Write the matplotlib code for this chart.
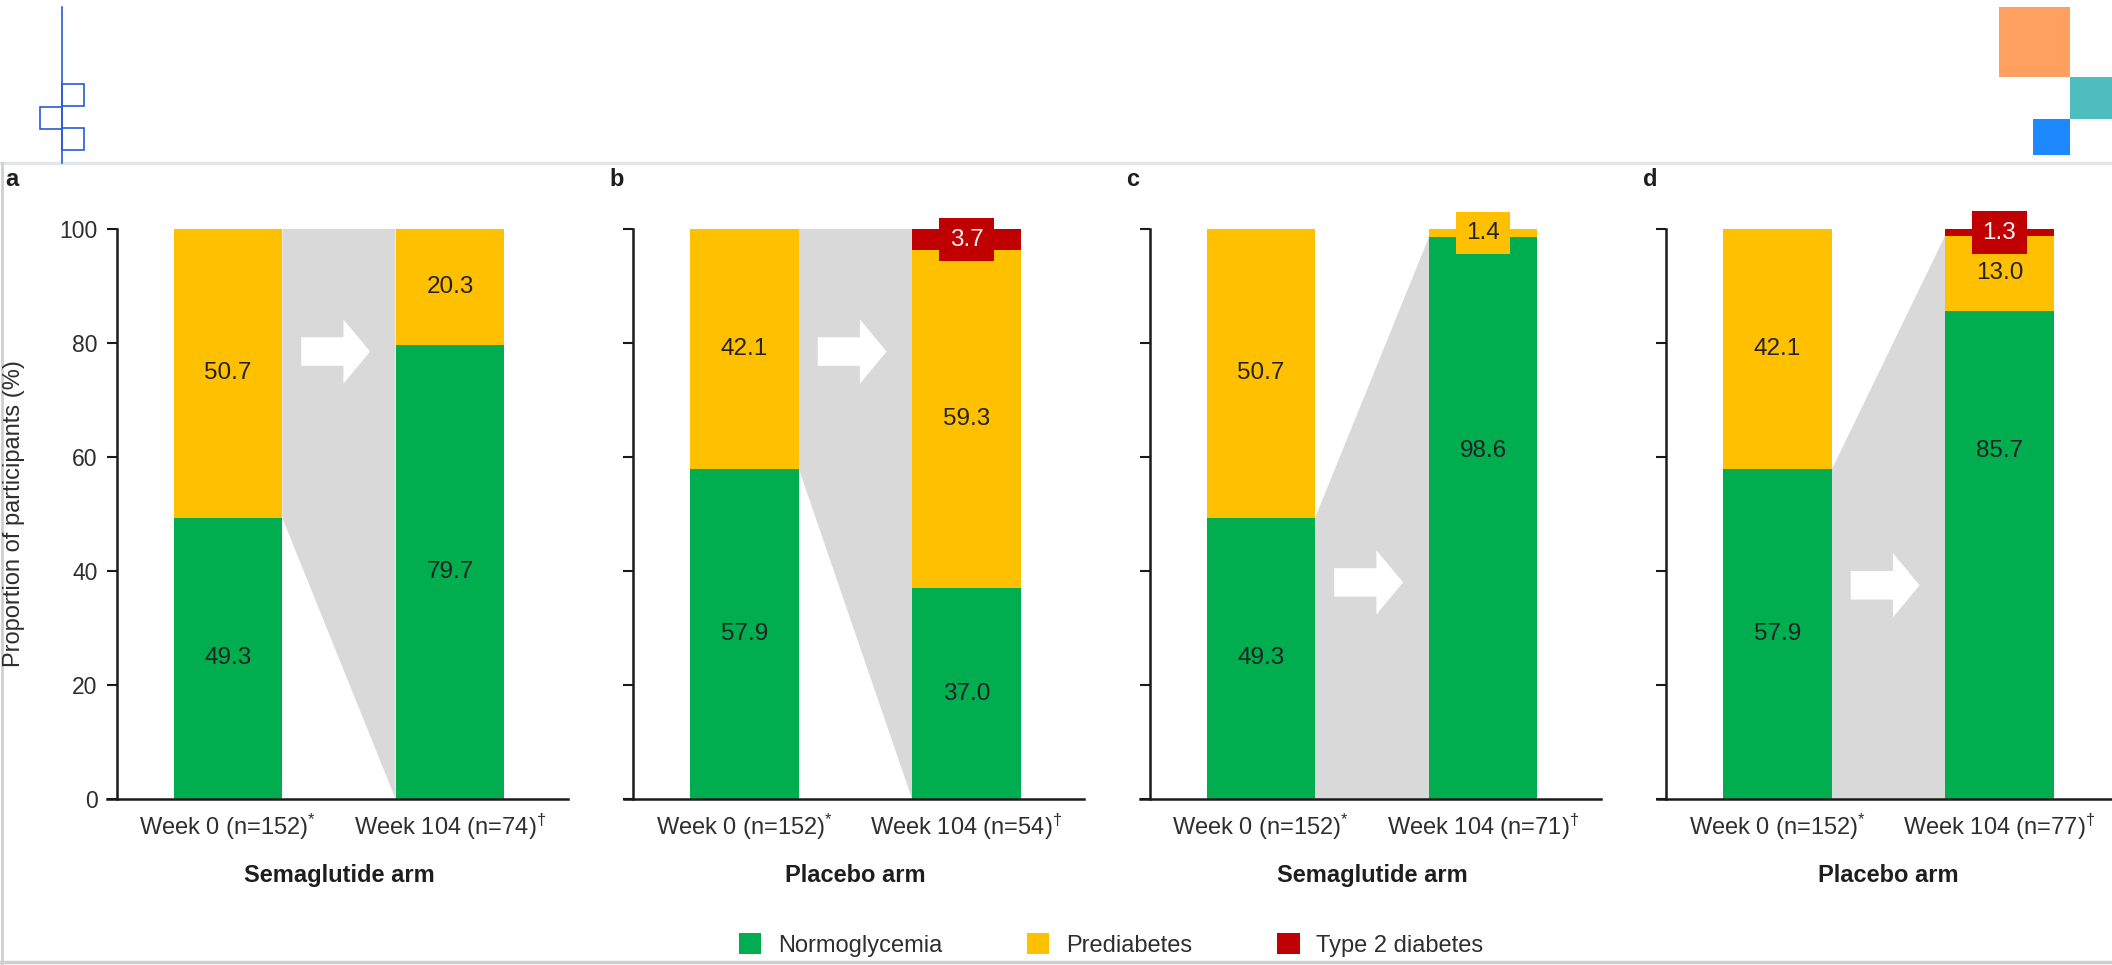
import matplotlib
matplotlib.use('Agg')
import matplotlib.pyplot as plt
import matplotlib.transforms as mtransforms
from matplotlib.patches import Rectangle, FancyArrow, Patch
from matplotlib.lines import Line2D

plt.rcParams['font.family'] = ['Liberation Sans', 'DejaVu Sans']
plt.rcParams['mathtext.fontset'] = 'custom'
plt.rcParams['mathtext.rm'] = 'Liberation Sans'
plt.rcParams['mathtext.it'] = 'Liberation Sans'

# one entry per panel
panel_ids = ['a', 'b', 'c', 'd']
arm_names = ['Semaglutide arm', 'Placebo arm', 'Semaglutide arm', 'Placebo arm']
n_week0 = [152, 152, 152, 152]
n_week104 = [74, 54, 71, 77]

normo_w0 = [49.3, 57.9, 49.3, 57.9]
prediab_w0 = [50.7, 42.1, 50.7, 42.1]
normo_w104 = [79.7, 37.0, 98.6, 85.7]
prediab_w104 = [20.3, 59.3, 1.4, 13.0]
t2d_w104 = [0.0, 3.7, 0.0, 1.3]

# which week-0 group is traced to week 104, and how high it reaches there
flow_source = ['prediabetes', 'prediabetes', 'normoglycemia', 'normoglycemia']
flow_top_w104 = [100.0, 100.0, 98.6, 98.7]

categories = ['Normoglycemia', 'Prediabetes', 'Type 2 diabetes']

GREEN = '#00ad4f'
YELLOW = '#ffc000'
RED = '#c00000'
GREY = '#d9d9d9'
TXT = '#222222'

W, H = 2112, 965
fig = plt.figure(figsize=(W / 100, H / 100), dpi=100)
fig.patch.set_facecolor('white')


def fx(px):
    return px / W


def fy(py):
    return 1 - py / H


# page header decoration
fig.add_artist(Line2D([0, 1], [fy(163), fy(163)], transform=fig.transFigure,
                      color='#e3e7ec', lw=2.5))
fig.add_artist(Line2D([fx(1.5), fx(1.5)], [fy(163), 0], transform=fig.transFigure,
                      color='#cfcfcf', lw=2))
fig.add_artist(Line2D([0, 1], [fy(962), fy(962)], transform=fig.transFigure,
                      color='#cfcfcf', lw=2.5))
blue = '#2a5bd7'
fig.add_artist(Line2D([fx(62), fx(62)], [fy(7), fy(163)], transform=fig.transFigure,
                      color=blue, lw=1.2))
for x0, y0 in [(62, 84), (40, 107), (62, 128)]:
    fig.add_artist(Rectangle((fx(x0), fy(y0 + 22)), fx(22), 22 / H,
                             transform=fig.transFigure, fill=False, ec=blue, lw=1.2))
for x0, y0, w, h, c in [(1999, 7, 71, 70, '#ffa060'), (2070, 77, 42, 42, '#4dbdbd'),
                        (2033, 119, 37, 36, '#1e88ff')]:
    fig.add_artist(Rectangle((fx(x0), fy(y0 + h)), fx(w), h / H,
                             transform=fig.transFigure, color=c, lw=0))

bar_w = 0.49
xpos = [0, 1]
arrow_y = [78.5, 78.5, 38.0, 37.5]
label_y = {(2, 0): 61.0, (3, 0): 61.0}

for i, pid in enumerate(panel_ids):
    axis_px = 117 + 516.5 * i
    ax = fig.add_axes([fx(axis_px - 10), fy(799), fx(460.6), (799 - 229) / H])
    ax.set_xlim(-0.545, 1.53)
    ax.set_ylim(0, 100)

    # connecting flow between the two bars
    if flow_source[i] == 'prediabetes':
        lo, hi = normo_w0[i], normo_w0[i] + prediab_w0[i]
    else:
        lo, hi = 0, normo_w0[i]
    xr = xpos[0] + bar_w / 2
    xl = xpos[1] - bar_w / 2
    ax.fill([xr, xr, xl, xl], [hi, lo, 0, flow_top_w104[i]], color=GREY, lw=0, zorder=1)

    stacks = [
        (xpos[0], [normo_w0[i], prediab_w0[i], 0.0]),
        (xpos[1], [normo_w104[i], prediab_w104[i], t2d_w104[i]]),
    ]
    for b, (x, vals) in enumerate(stacks):
        bottom = 0.0
        for k, (v, c) in enumerate(zip(vals, [GREEN, YELLOW, RED])):
            if v <= 0:
                continue
            ax.bar(x, v, bottom=bottom, width=bar_w, color=c, lw=0, zorder=2)
            yc = bottom + v / 2
            if v >= 5:
                yc = label_y.get((i, k), yc) if b == 1 else yc
                ax.text(x, yc, f'{v:.1f}', ha='center', va='center',
                        fontsize=17.5, color=TXT, zorder=4)
            else:
                ax.text(x, yc, f'{v:.1f}', ha='center', va='center', fontsize=17.5,
                        color='#fff2f2' if c == RED else TXT, zorder=4, clip_on=False,
                        bbox=dict(boxstyle='square,pad=0.42', fc=c, ec='none'))
            bottom += v

    ax.add_patch(FancyArrow(0.33, arrow_y[i], 0.31, 0, width=5.0, head_width=11.3,
                            head_length=0.12, length_includes_head=True,
                            color='white', lw=0, zorder=3))

    for s in ['top', 'right']:
        ax.spines[s].set_visible(False)
    ax.spines['left'].set_position(('data', -0.5))
    ax.spines['left'].set_bounds(0, 100)
    for s in ['left', 'bottom']:
        ax.spines[s].set_linewidth(1.8)
        ax.spines[s].set_color('#1a1a1a')

    ax.set_yticks([0, 20, 40, 60, 80, 100])
    ax.tick_params(axis='y', direction='out', length=7, width=1.5, color='#1a1a1a',
                   labelsize=16.5, labelcolor='#2e2e2e', pad=7, labelleft=(i == 0))
    ax.set_xticks(xpos)
    ax.set_xticklabels([f'Week 0 (n={n_week0[i]})$^{{*}}$',
                        f'Week 104 (n={n_week104[i]})$^{{\\dagger}}$'])
    ax.tick_params(axis='x', length=0, labelsize=17, labelcolor='#2e2e2e', pad=9)

    trans = mtransforms.blended_transform_factory(ax.transData, ax.transAxes)
    ax.text(0.5, -0.135, arm_names[i], transform=trans, ha='center', va='center',
            fontsize=17, fontweight='bold', color='#1e1e1e')

    letter_x = 5 if i == 0 else axis_px - 24
    fig.text(fx(letter_x), fy(186), pid, fontsize=17, fontweight='bold',
             color='#1e1e1e', ha='left', va='baseline')

fig.text(fx(14), fy(514), 'Proportion of participants (%)', rotation=90,
         ha='center', va='center', fontsize=17, color='#2e2e2e')

handles = [Patch(facecolor=c, edgecolor='none', label=l)
           for c, l in zip([GREEN, YELLOW, RED], categories)]
fig.legend(handles=handles, loc='center', bbox_to_anchor=(fx(1111), fy(945)),
           ncol=3, frameon=False, fontsize=17, handlelength=0.95, handleheight=0.95,
           handletextpad=0.7, columnspacing=3.6, labelcolor='#2e2e2e')

fig.savefig('out.png', dpi=100)
